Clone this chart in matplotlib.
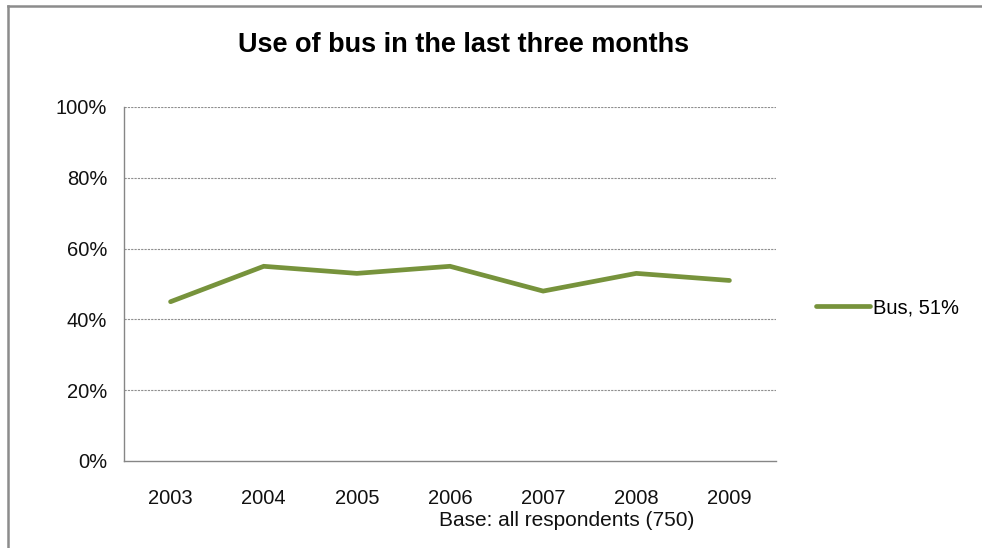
import matplotlib
matplotlib.use("Agg")
import matplotlib.pyplot as plt
from matplotlib.lines import Line2D

plt.rcParams['font.family'] = ['Liberation Sans', 'DejaVu Sans']

# data
years = ['2003', '2004', '2005', '2006', '2007', '2008', '2009']
bus = [45, 55, 53, 55, 48, 53, 51]
series_label = 'Bus, 51%'
title = 'Use of bus in the last three months'
base_note = 'Base: all respondents (750)'
y_ticks = [0, 20, 40, 60, 80, 100]

W, H = 982, 548
fig = plt.figure(figsize=(W / 100, H / 100), dpi=100)
ax = fig.add_axes([124 / W, 1 - 461 / H, (776 - 124) / W, (461 - 107) / H])

green = '#77933C'
grey = '#868686'

x = list(range(len(years)))
ax.plot(x, bus, color=green, linewidth=3.4, solid_capstyle='round',
        solid_joinstyle='miter', label=series_label)

ax.set_xlim(-0.5, len(years) - 0.5)
ax.set_ylim(0, 100)
ax.set_xticks(x)
ax.set_xticklabels(years)
ax.set_yticks(y_ticks)
ax.set_yticklabels([f'{v}%' for v in y_ticks])
ax.tick_params(axis='both', length=0, labelsize=14.5, colors='#111111')
ax.tick_params(axis='y', pad=12)
ax.tick_params(axis='x', pad=20)

for v in y_ticks[1:]:
    ax.axhline(v, color='#8f8f8f', linewidth=0.8, linestyle=(0, (2, 1)), zorder=0)

for s in ['top', 'right']:
    ax.spines[s].set_visible(False)
for s in ['left', 'bottom']:
    ax.spines[s].set_color(grey)
    ax.spines[s].set_linewidth(1.0)

fig.text(464 / W, 1 - 45 / H, title, ha='center', va='center',
         fontsize=19.5, fontweight='bold')
fig.text(567 / W, 1 - 521 / H, base_note, ha='center', va='center',
         fontsize=15, color='#111111')

ax.legend(loc='center left', bbox_to_anchor=(806 / W, 1 - 308 / H),
          bbox_transform=fig.transFigure, frameon=False, borderpad=0,
          handlelength=2.7, handletextpad=0.15, fontsize=14.5)

# outer frame (top and left edges visible)
fig.add_artist(Line2D([8 / W, 1], [1 - 6 / H, 1 - 6 / H], transform=fig.transFigure,
                      color='#8c8c8c', linewidth=1.8))
fig.add_artist(Line2D([8 / W, 8 / W], [0, 1 - 6 / H], transform=fig.transFigure,
                      color='#8c8c8c', linewidth=1.8))

fig.savefig('out.png', dpi=100)
